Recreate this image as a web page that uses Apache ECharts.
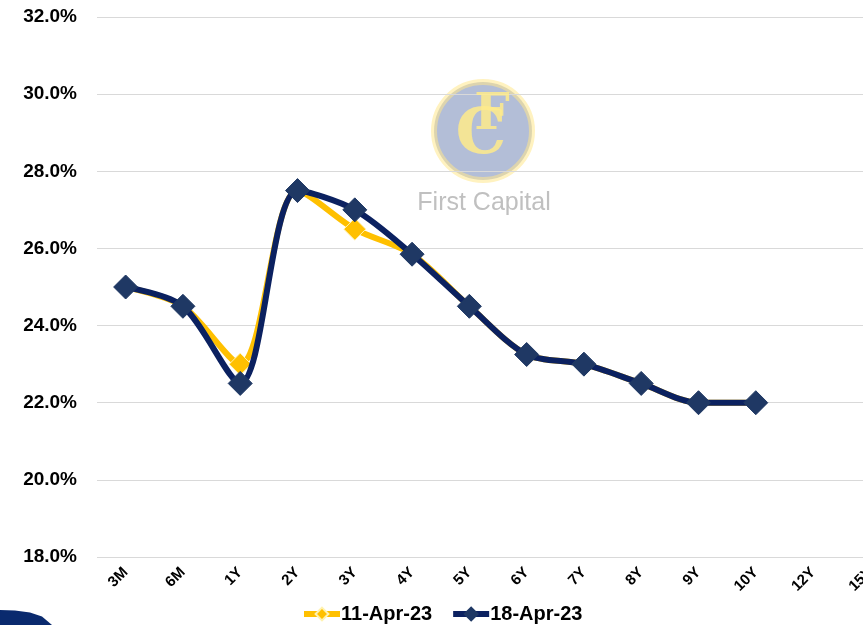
<!DOCTYPE html>
<html>
<head>
<meta charset="utf-8">
<style>
  html, body { margin: 0; padding: 0; background: #fff; overflow: hidden; }
  /* the plot runs past the right edge of the window, as in the source slide */
  #main { width: 900px; height: 625px; }
</style>
<script src="https://cdn.jsdelivr.net/npm/echarts@6/dist/echarts.min.js"></script>
</head>
<body>
<div id="main"></div>
<script>
// tenors on the curve
const tenors = ['3M', '6M', '1Y', '2Y', '3Y', '4Y', '5Y', '6Y', '7Y', '8Y', '9Y', '10Y', '12Y', '15Y'];
// yields (%)
const apr11 = [25.0, 24.5, 23.0, 27.5, 26.5, 25.85, 24.5, 23.25, 23.0, 22.5, 22.0, 22.0, null, null];
const apr18 = [25.0, 24.5, 22.5, 27.5, 27.0, 25.85, 24.5, 23.25, 23.0, 22.5, 22.0, 22.0, null, null];
const yTicks = [18, 32, 2];

const NARROW = '"Liberation Sans Narrow", "Liberation Sans", Arial, sans-serif';
const SANS = '"Liberation Sans", Arial, sans-serif';

const myChart = echarts.init(document.getElementById('main'));
myChart.setOption({
  animation: false,
  grid: {
    left: 97,
    right: 1,
    top: 17,
    bottom: 68
  },
  legend: {
    top: 599,
    left: 296,
    itemWidth: 36,
    itemHeight: 16,
    itemGap: 18,
    textStyle: {
      fontFamily: NARROW,
      fontWeight: 'bold',
      fontSize: 20,
      color: '#000',
      padding: [0, 0, 0, -4]
    },
    data: [
      { name: '11-Apr-23', lineStyle: { width: 6 } },
      { name: '18-Apr-23', lineStyle: { width: 6 } }
    ]
  },
  graphic: [
    {
      type: 'circle',
      shape: { cx: 483, cy: 131, r: 49 },
      style: { fill: 'rgba(160,174,205,0.8)', stroke: 'rgba(255,232,140,0.55)', lineWidth: 6 },
      z: 0
    },
    {
      type: 'text',
      x: 481, y: 136,
      style: {
        text: 'C',
        font: 'bold 64px "DejaVu Serif", serif',
        fill: 'rgba(255,235,140,0.85)',
        align: 'center',
        verticalAlign: 'middle'
      },
      z: 1
    },
    {
      type: 'text',
      x: 492, y: 116,
      style: {
        text: 'F',
        font: 'bold 50px "DejaVu Serif", serif',
        fill: 'rgba(255,235,140,0.85)',
        align: 'center',
        verticalAlign: 'middle'
      },
      z: 1
    },
    {
      type: 'text',
      x: 484, y: 203,
      style: {
        text: 'First Capital',
        font: '25px ' + SANS,
        fill: '#c0c0c0',
        align: 'center',
        verticalAlign: 'middle'
      },
      z: 0
    },
    {
      type: 'polygon',
      shape: { points: [[0, 610], [15, 610.5], [30, 612.5], [42, 616.5], [52, 625], [0, 625]] },
      style: { fill: '#0a2a6e' },
      z: 0
    }
  ],
  xAxis: {
    type: 'category',
    data: tenors,
    boundaryGap: true,
    axisLine: { show: false },
    axisTick: { show: false },
    axisLabel: {
      rotate: 45,
      margin: 13,
      interval: 0,
      fontFamily: SANS,
      fontWeight: 'bold',
      fontSize: 15,
      color: '#000'
    }
  },
  yAxis: {
    type: 'value',
    min: yTicks[0],
    max: yTicks[1],
    interval: yTicks[2],
    axisLine: { show: false },
    axisTick: { show: false },
    splitLine: { lineStyle: { color: '#d9d9d9', width: 1 } },
    axisLabel: {
      margin: 20,
      fontFamily: SANS,
      fontWeight: 'bold',
      fontSize: 19,
      color: '#000',
      formatter: function (v) { return v.toFixed(1) + '%'; }
    }
  },
  series: [
    {
      name: '11-Apr-23',
      type: 'line',
      data: apr11,
      smooth: 0.3,
      symbol: 'diamond',
      symbolSize: 22,
      z: 2,
      lineStyle: { color: '#FFC000', width: 6 },
      itemStyle: { color: '#FFC000', borderColor: '#fff2b0', borderWidth: 1 }
    },
    {
      name: '18-Apr-23',
      type: 'line',
      data: apr18,
      smooth: 0.3,
      symbol: 'diamond',
      symbolSize: 24,
      z: 3,
      lineStyle: { color: '#0b2160', width: 6 },
      itemStyle: { color: '#1f3864', borderColor: '#1f3864', borderWidth: 1 }
    }
  ]
});
</script>
</body>
</html>
